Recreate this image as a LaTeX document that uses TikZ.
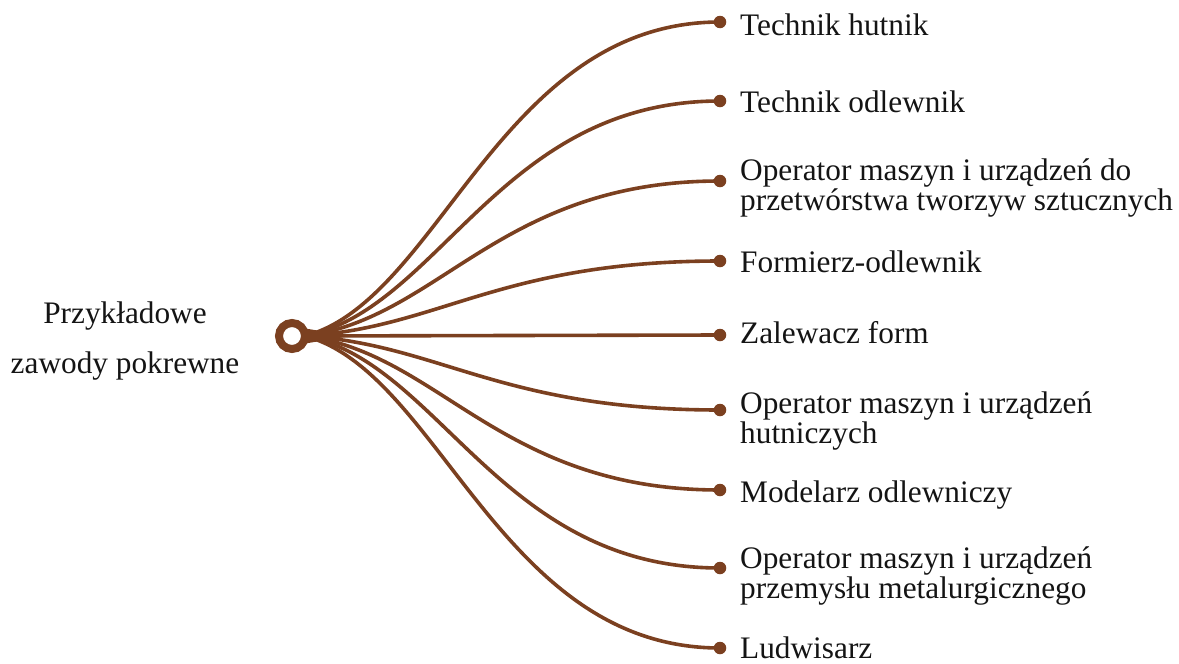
\documentclass[tikz,border=0pt]{standalone}
\usepackage{fontspec}
\setmainfont{Liberation Serif}
\definecolor{brn}{RGB}{123,64,32}
\definecolor{txt}{RGB}{20,20,20}
\begin{document}
\begin{tikzpicture}[x=1pt,y=-1pt,
  conn/.style={draw=brn, line width=3.6pt},
  enddot/.style={circle, fill=brn, inner sep=0pt, minimum size=12.5pt},
  lbl/.style={anchor=base west, inner sep=0pt, text=txt, font=\fontsize{31.3}{30}\selectfont},
  hubring/.style={circle, draw=brn, line width=8pt, fill=white, minimum size=26pt, inner sep=0pt}]
\useasboundingbox (0,0) rectangle (1179,664);
% hub and end dots
\coordinate (start) at (305,336);
\node[enddot] (d1) at (720,22) {};
\node[enddot] (d2) at (720,101) {};
\node[enddot] (d3) at (720,181) {};
\node[enddot] (d4) at (720,261) {};
\node[enddot] (d5) at (720,335) {};
\node[enddot] (d6) at (720,410) {};
\node[enddot] (d7) at (720,490) {};
\node[enddot] (d8) at (720,568) {};
\node[enddot] (d9) at (720,648) {};
% connectors
\draw[conn] (start) .. controls (440,300) and (500,22) .. (d1.center);
\draw[conn] (start) .. controls (440,309) and (500,101) .. (d2.center);
\draw[conn] (start) .. controls (440,318) and (500,181) .. (d3.center);
\draw[conn] (start) .. controls (440,327.5) and (500,261) .. (d4.center);
\draw[conn] (start) -- (d5.center);
\draw[conn] (start) .. controls (440,344.5) and (500,410) .. (d6.center);
\draw[conn] (start) .. controls (440,353.5) and (500,490) .. (d7.center);
\draw[conn] (start) .. controls (440,362) and (500,568) .. (d8.center);
\draw[conn] (start) .. controls (440,372) and (500,648) .. (d9.center);
\fill[brn] (296,327) -- (345,335) -- (345,337) -- (296,345) -- cycle;
\node[hubring] (hub) at (292,336) {};
% labels
\node[anchor=base, inner sep=0pt, text=txt, font=\fontsize{31.3}{30}\selectfont] (title) at (125,323)
  {\begin{tabular}[t]{@{}c@{}}Przykładowe\\[20pt]zawody pokrewne\end{tabular}};
\node[lbl] (l1) at (740,35) {Technik hutnik};
\node[lbl] (l2) at (740,112) {Technik odlewnik};
\node[lbl] (l3) at (740,180) {\begin{tabular}[t]{@{}l@{}}Operator maszyn i urządzeń do\\przetwórstwa tworzyw sztucznych\end{tabular}};
\node[lbl] (l4) at (740,272) {Formierz-odlewnik};
\node[lbl] (l5) at (740,343) {Zalewacz form};
\node[lbl] (l6) at (740,413) {\begin{tabular}[t]{@{}l@{}}Operator maszyn i urządzeń\\hutniczych\end{tabular}};
\node[lbl] (l7) at (740,502) {Modelarz odlewniczy};
\node[lbl] (l8) at (740,568) {\begin{tabular}[t]{@{}l@{}}Operator maszyn i urządzeń\\przemysłu metalurgicznego\end{tabular}};
\node[lbl] (l9) at (740,658) {Ludwisarz};
\end{tikzpicture}
\end{document}
